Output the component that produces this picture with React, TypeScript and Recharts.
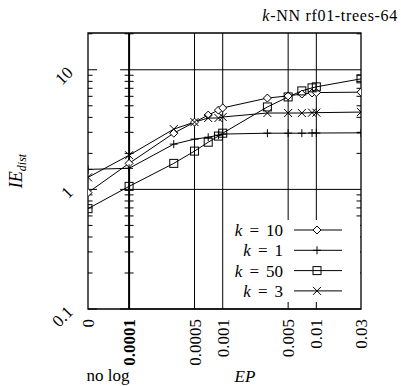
import { LineChart, Line, XAxis, YAxis, ReferenceLine, ReferenceArea, Legend } from 'recharts'

// position of the "0" (no log) column on the log x axis
const NO_LOG_X = 3.64e-5

const EP = [0, 0.0001, 0.0003, 0.0005, 0.0007, 0.0009, 0.001, 0.003, 0.005, 0.007, 0.009, 0.01, 0.03]
const K10 = [0.94, 1.65, 2.95, 3.65, 4.18, 4.6, 4.8, 5.8, 6.05, 6.27, 6.4, 6.45, 6.5]
const K1 = [1.47, 1.5, 2.39, 2.63, 2.73, 2.84, 2.9, 2.95, 2.95, 2.95, 2.96, 2.96, 2.97]
const K50 = [0.69, 1.06, 1.65, 2.09, 2.48, 2.79, 2.95, 4.89, 5.93, 6.66, 7.06, 7.2, 8.4]
const K3 = [1.26, 1.93, 3.19, 3.65, 3.95, 3.95, 4.03, 4.35, 4.35, 4.35, 4.38, 4.38, 4.43]

const X_TICKS = [0, 0.0001, 0.0005, 0.001, 0.005, 0.01, 0.03]
const Y_TICKS = [0.1, 1, 10]
const Y_MINOR = [0.2, 0.3, 0.4, 0.5, 0.6, 0.7, 0.8, 0.9, 2, 3, 4, 5, 6, 7, 8, 9, 20]
const Y_MAX = 20.3

type MarkerKind = 'diamond' | 'plus' | 'square' | 'cross'

const SERIES: { key: string; label: string; marker: MarkerKind }[] = [
  { key: 'k10', label: '10', marker: 'diamond' },
  { key: 'k1', label: '1', marker: 'plus' },
  { key: 'k50', label: '50', marker: 'square' },
  { key: 'k3', label: '3', marker: 'cross' },
]

const data = EP.map((ep, i) => ({
  ep: ep === 0 ? NO_LOG_X : ep,
  k10: K10[i],
  k1: K1[i],
  k50: K50[i],
  k3: K3[i],
}))

const FONT = 'Liberation Serif'
const serif = { fontFamily: FONT }

function Marker({ kind, cx, cy }: { kind: MarkerKind; cx: number; cy: number }) {
  const s = 4
  if (kind === 'diamond')
    return <path d={`M${cx},${cy - s}L${cx + s},${cy}L${cx},${cy + s}L${cx - s},${cy}Z`} fill="#fff" stroke="#000" />
  if (kind === 'plus')
    return <path d={`M${cx - s},${cy}H${cx + s}M${cx},${cy - s}V${cy + s}`} stroke="#000" fill="none" />
  if (kind === 'square')
    return <rect x={cx - s} y={cy - s} width={2 * s} height={2 * s} fill="none" stroke="#000" />
  return <path d={`M${cx - s},${cy - s}L${cx + s},${cy + s}M${cx - s},${cy + s}L${cx + s},${cy - s}`} stroke="#000" fill="none" />
}

const dotFor = (kind: MarkerKind) => (p: any) => <Marker key={`${kind}-${p.index}`} kind={kind} cx={p.cx} cy={p.cy} />

const XTick = ({ x, y, payload }: any) => {
  const label = payload.value === NO_LOG_X ? '0' : String(payload.value)
  return (
    <text
      transform={`translate(${x + 6},${y + 10}) rotate(-90)`}
      textAnchor="end"
      fontSize={17}
      fontWeight={payload.value === 0.0001 ? 'bold' : 'normal'}
      fill="#000"
      style={serif}
    >
      {label}
    </text>
  )
}

const YTick = ({ x, y, payload }: any) => (
  <text transform={`translate(${x - 14},${y + 4}) rotate(-45)`} textAnchor="end" fontSize={17} fill="#000" style={serif}>
    {String(payload.value)}
  </text>
)

// ticks on the left border and on both sides of the 0.0001 line
const leftTicks = (major: boolean) => (p: any) => {
  const len = major ? 9 : 4.5
  return (
    <g stroke="#000" strokeWidth={1}>
      <line x1={p.x1} y1={p.y1} x2={p.x1 + len} y2={p.y1} />
      <line x1={p.x2 - len} y1={p.y2} x2={p.x2 + (major ? 0 : len)} y2={p.y2} />
    </g>
  )
}

// grid line for majors, inward tick on the right border for minors
const rightTicks = (major: boolean) => (p: any) =>
  major ? (
    <line x1={p.x1} y1={p.y1} x2={p.x2} y2={p.y2} stroke="#000" strokeWidth={1} />
  ) : (
    <line x1={p.x2 - 4.5} y1={p.y2} x2={p.x2} y2={p.y2} stroke="#000" strokeWidth={1} />
  )

const LegendBox = () => (
  <svg width={134} height={82} style={{ display: 'block' }}>
    {SERIES.map((s, i) => {
      const cy = 10 + i * 20.3
      return (
        <g key={s.key}>
          <text x={57} y={cy + 6} textAnchor="end" fontSize={17} style={serif} fill="#000">
            <tspan fontStyle="italic">k</tspan>
            <tspan dx={7}>=</tspan>
            <tspan dx={7}>{s.label}</tspan>
          </text>
          <line x1={68} y1={cy} x2={116} y2={cy} stroke="#000" strokeWidth={1} />
          <Marker kind={s.marker} cx={91} cy={cy} />
        </g>
      )
    })}
  </svg>
)

export default function App() {
  return (
    <div style={{ position: 'absolute', left: 0, top: 0, width: 401, height: 386, background: '#fff', fontFamily: FONT }}>
      <LineChart width={401} height={386} data={data} margin={{ top: 33, right: 40, bottom: 76, left: 87 }}>
        <XAxis
          dataKey="ep"
          type="number"
          scale="log"
          domain={[NO_LOG_X, 0.03]}
          allowDataOverflow
          ticks={X_TICKS.map((v) => (v === 0 ? NO_LOG_X : v))}
          interval={0}
          tick={XTick}
          tickLine={false}
          axisLine={false}
          tickSize={0}
          tickMargin={0}
          height={1}
        />
        <YAxis
          type="number"
          scale="log"
          domain={[0.1, Y_MAX]}
          allowDataOverflow
          ticks={Y_TICKS}
          interval={0}
          tick={YTick}
          tickLine={false}
          axisLine={false}
          tickSize={0}
          tickMargin={0}
          width={1}
        />
        {[0.0005, 0.001, 0.005, 0.01].map((v) => (
          <ReferenceLine key={`vx-${v}`} x={v} stroke="#000" strokeWidth={1} />
        ))}
        <ReferenceLine x={0.0001} stroke="#000" strokeWidth={2} />
        {[...Y_TICKS, ...Y_MINOR].map((v) => {
          const major = Y_TICKS.includes(v)
          return [
            <ReferenceLine
              key={`yl-${v}`}
              segment={[{ x: NO_LOG_X, y: v }, { x: 0.0001, y: v }]}
              shape={leftTicks(major)}
            />,
            <ReferenceLine
              key={`yr-${v}`}
              segment={[{ x: 0.0001, y: v }, { x: 0.03, y: v }]}
              shape={rightTicks(major)}
            />,
          ]
        })}
        <ReferenceArea x1={NO_LOG_X} x2={0.03} y1={0.1} y2={Y_MAX} fill="none" fillOpacity={0} stroke="#000" strokeWidth={1.3} />
        {SERIES.map((s) => (
          <Line
            key={s.key}
            dataKey={s.key}
            type="linear"
            stroke="#000"
            strokeWidth={1}
            dot={dotFor(s.marker)}
            activeDot={false}
            isAnimationActive={false}
          />
        ))}
        <Legend
          layout="vertical"
          align="center"
          verticalAlign="middle"
          wrapperStyle={{ left: 226, top: 220, width: 134, height: 82, background: '#fff' }}
          content={() => <LegendBox />}
        />
      </LineChart>
      <svg width={401} height={386} style={{ position: 'absolute', left: 0, top: 0, pointerEvents: 'none' }}>
        <text x={398} y={21} textAnchor="end" fontSize={16} letterSpacing={0.7} fill="#000" style={serif}>
          <tspan fontStyle="italic">k</tspan>-NN rf01-trees-64
        </text>
        <text x={108} y={381} textAnchor="middle" fontSize={17} fill="#000" style={serif}>
          no log
        </text>
        <text x={245} y={382} textAnchor="middle" fontSize={17} fontStyle="italic" fill="#000" style={serif}>
          EP
        </text>
        <text transform="translate(22,171) rotate(-90)" textAnchor="middle" fontSize={18} fontStyle="italic" fill="#000" style={serif}>
          IE
          <tspan fontSize={12} dy={4}>dist</tspan>
        </text>
      </svg>
    </div>
  )
}
